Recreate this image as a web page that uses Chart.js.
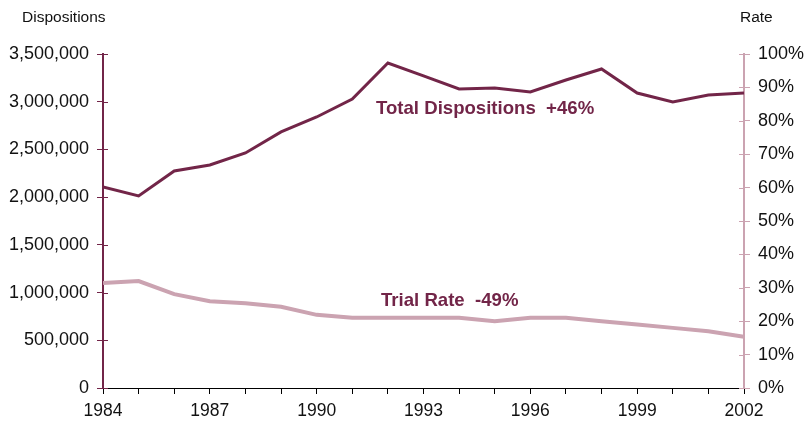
<!DOCTYPE html>
<html>
<head>
<meta charset="utf-8">
<script src="https://cdn.jsdelivr.net/npm/chart.js@4.4.1/dist/chart.umd.min.js"></script>
<style>
  html, body { margin: 0; padding: 0; background: #fff; }
  #wrap { width: 804px; height: 424px; }
</style>
</head>
<body>
<div id="wrap"><canvas id="chart" width="804" height="424"></canvas></div>
<script>
// Court dispositions vs trial rate, 1984-2002
const years = [1984, 1985, 1986, 1987, 1988, 1989, 1990, 1991, 1992, 1993,
               1994, 1995, 1996, 1997, 1998, 1999, 2000, 2001, 2002];
const totalDispositions = [2106000, 2012000, 2274000, 2337000, 2463000, 2683000, 2840000, 3028000, 3406000, 3270000,
                           3133000, 3144000, 3102000, 3228000, 3343000, 3091000, 2997000, 3070000, 3091000];
const trialRate = [0.314, 0.320, 0.281, 0.260, 0.254, 0.243, 0.219, 0.210, 0.210, 0.210,
                   0.210, 0.200, 0.210, 0.210, 0.200, 0.190, 0.180, 0.170, 0.153];
const leftTicks = [0, 500000, 1000000, 1500000, 2000000, 2500000, 3000000, 3500000];
const labelYears = [1984, 1987, 1990, 1993, 1996, 1999, 2002];

const MAROON = '#722548';
const PINK = '#cba3b1';
const FONT = "'Liberation Sans', Arial, sans-serif";

// extra text: axis titles, line labels, inner half of y tick marks
const extras = {
    id: 'extras',
    afterDraw(chart) {
        const ctx = chart.ctx;
        const area = chart.chartArea;
        const y = chart.scales.y, y1 = chart.scales.y1;
        ctx.save();
        ctx.lineWidth = 1;
        ctx.strokeStyle = MAROON;
        y.ticks.forEach(t => {
            const py = Math.round(y.getPixelForValue(t.value)) + 0.5;
            ctx.beginPath(); ctx.moveTo(area.left, py); ctx.lineTo(area.left + 5, py); ctx.stroke();
        });
        ctx.strokeStyle = PINK;
        y1.ticks.forEach(t => {
            const py = Math.round(y1.getPixelForValue(t.value)) + 0.5;
            ctx.beginPath(); ctx.moveTo(area.right - 5, py); ctx.lineTo(area.right, py); ctx.stroke();
        });
        ctx.fillStyle = '#111';
        ctx.font = '15.5px ' + FONT;
        ctx.textBaseline = 'middle';
        ctx.textAlign = 'left';
        ctx.fillText('Dispositions', 22, 18);
        ctx.fillText('Rate', 740, 18);
        ctx.fillStyle = MAROON;
        ctx.font = 'bold 18.6px ' + FONT;
        ctx.fillText('Total Dispositions  +46%', 376, 109);
        ctx.fillText('Trial Rate  -49%', 381, 301);
        ctx.restore();
    }
};

new Chart(document.getElementById('chart').getContext('2d'), {
    type: 'line',
    data: {
        datasets: [{
            label: 'Total Dispositions',
            data: years.map((yr, i) => ({ x: yr, y: totalDispositions[i] })),
            borderColor: MAROON,
            borderWidth: 3,
            pointRadius: 0,
            tension: 0,
            yAxisID: 'y'
        }, {
            label: 'Trial Rate',
            data: years.map((yr, i) => ({ x: yr, y: trialRate[i] })),
            borderColor: PINK,
            borderWidth: 4,
            pointRadius: 0,
            tension: 0,
            yAxisID: 'y1'
        }]
    },
    options: {
        responsive: false,
        animation: false,
        layout: { padding: { top: 54, left: 0, right: 0, bottom: 0 } },
        plugins: { legend: { display: false }, tooltip: { enabled: false } },
        scales: {
            x: {
                type: 'linear',
                min: 1984, max: 2002,
                afterFit: s => { s.height = 36; },
                afterBuildTicks: s => { s.ticks = years.map(v => ({ value: v })); },
                border: { color: '#000', width: 1 },
                grid: { drawOnChartArea: false, color: '#000', tickLength: 6 },
                ticks: {
                    autoSkip: false,
                    maxRotation: 0,
                    padding: 7,
                    color: '#111',
                    font: { family: FONT, size: 17.5 },
                    callback: v => labelYears.includes(v) ? String(v) : ''
                }
            },
            y: {
                position: 'left',
                min: 0, max: 3500000,
                afterFit: s => { s.width = 103; },
                afterBuildTicks: s => { s.ticks = leftTicks.map(v => ({ value: v })); },
                border: { color: MAROON, width: 2 },
                grid: { drawOnChartArea: false, color: MAROON, tickLength: 6 },
                ticks: {
                    padding: 8,
                    color: '#111',
                    font: { family: FONT, size: 18 },
                    callback: v => v.toLocaleString('en-US')
                }
            },
            y1: {
                position: 'right',
                min: 0, max: 1,
                afterFit: s => { s.width = 60; },
                border: { color: PINK, width: 2 },
                grid: { drawOnChartArea: false, color: PINK, tickLength: 6 },
                ticks: {
                    stepSize: 0.1,
                    padding: 8,
                    color: '#111',
                    font: { family: FONT, size: 18 },
                    callback: v => Math.round(v * 100) + '%'
                }
            }
        }
    },
    plugins: [extras]
});
</script>
</body>
</html>
